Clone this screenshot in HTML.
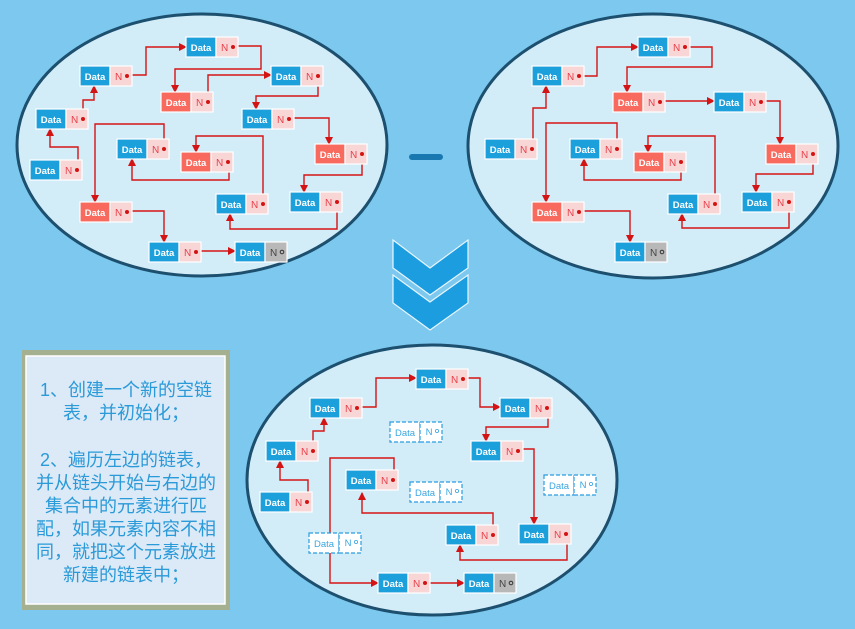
<!DOCTYPE html>
<html><head><meta charset="utf-8"><style>
html,body{margin:0;padding:0;background:#7cc8ee;}
svg{display:block;}
.d{font-family:"Liberation Sans",sans-serif;font-size:9.5px;font-weight:bold;fill:#fff;text-anchor:middle;}
.n{font-family:"Liberation Sans",sans-serif;font-size:10px;fill:#e8404a;}
.ng{font-family:"Liberation Sans",sans-serif;font-size:10px;fill:#444;}
.dd{font-family:"Liberation Sans",sans-serif;font-size:9.5px;fill:#3aa6e0;text-anchor:middle;}
.ln{fill:none;stroke:#d41414;stroke-width:1.4;}
.t{font-family:"Liberation Sans","Noto Sans CJK SC",sans-serif;font-size:18px;fill:#2a9ad8;text-anchor:middle;}
</style></head><body>
<svg width="855" height="629" viewBox="0 0 855 629" xmlns="http://www.w3.org/2000/svg">
<defs>
<marker id="a" markerWidth="8" markerHeight="8" refX="7" refY="4" orient="auto" markerUnits="userSpaceOnUse"><path d="M0,0 L8,4 L0,8 z" fill="#d41414"/></marker>
<g id="nb"><rect width="30" height="20" fill="#1ca0dc" stroke="#fff" stroke-width="1.2"/><text class="d" x="15" y="14">Data</text><rect x="30" width="22" height="20" fill="#f9d6d6" stroke="#fff" stroke-width="1.2"/><text class="n" x="35" y="14">N</text><circle cx="47" cy="10" r="2" fill="#d41414"/></g>
<g id="nr"><rect width="30" height="20" fill="#f86a5e" stroke="#fff" stroke-width="1.2"/><text class="d" x="15" y="14">Data</text><rect x="30" width="22" height="20" fill="#f9d6d6" stroke="#fff" stroke-width="1.2"/><text class="n" x="35" y="14">N</text><circle cx="47" cy="10" r="2" fill="#d41414"/></g>
<g id="ng"><rect width="30" height="20" fill="#1ca0dc" stroke="#fff" stroke-width="1.2"/><text class="d" x="15" y="14">Data</text><rect x="30" width="22" height="20" fill="#b8b8b8" stroke="#fff" stroke-width="1.2"/><text class="ng" x="35" y="14">N</text><circle cx="47" cy="10" r="1.8" fill="none" stroke="#333" stroke-width="1"/></g>
<g id="nd"><rect width="30" height="20" fill="#fff" stroke="#2a9de0" stroke-width="1.2" stroke-dasharray="4,2"/><text class="dd" x="15" y="14">Data</text><rect x="30" width="22" height="20" fill="#fff" stroke="#2a9de0" stroke-width="1.2" stroke-dasharray="4,2"/><text class="dd" x="39" y="13">N</text><circle cx="47" cy="9" r="1.6" fill="none" stroke="#3aa6e0" stroke-width="0.8"/></g>
</defs>

<!-- Left ellipse -->
<ellipse cx="202" cy="145" rx="185" ry="131" fill="#d2ecf8" stroke="#1d4f6e" stroke-width="3"/>
<polyline class="ln" marker-end="url(#a)" points="78,170 78,147 50,147 50,129"/>
<polyline class="ln" marker-end="url(#a)" points="83,118 83,100 94,100 94,86"/>
<polyline class="ln" marker-end="url(#a)" points="127,75 146,75 146,47 186,47"/>
<polyline class="ln" marker-end="url(#a)" points="233,46 261,46 261,69 175,69 175,92"/>
<polyline class="ln" marker-end="url(#a)" points="208,101 208,75 271,75"/>
<polyline class="ln" marker-end="url(#a)" points="318,75 318,96 256,96 256,109"/>
<polyline class="ln" marker-end="url(#a)" points="289,118 329,118 329,144"/>
<polyline class="ln" marker-end="url(#a)" points="362,154 362,175 304,175 304,192"/>
<polyline class="ln" marker-end="url(#a)" points="337,201 337,229 230,229 230,214"/>
<polyline class="ln" marker-end="url(#a)" points="263,203 263,136 196,136 196,152"/>
<polyline class="ln" marker-end="url(#a)" points="229,161 229,180 132,180 132,159"/>
<polyline class="ln" marker-end="url(#a)" points="164,148 164,124 95,124 95,202"/>
<polyline class="ln" marker-end="url(#a)" points="127,211 164,211 164,242"/>
<polyline class="ln" marker-end="url(#a)" points="197,251 235,251"/>
<use href="#nb" x="186" y="37"/>
<use href="#nb" x="80" y="66"/>
<use href="#nr" x="161" y="92"/>
<use href="#nb" x="271" y="66"/>
<use href="#nb" x="36" y="109"/>
<use href="#nb" x="242" y="109"/>
<use href="#nb" x="117" y="139"/>
<use href="#nr" x="181" y="152"/>
<use href="#nr" x="315" y="144"/>
<use href="#nb" x="30" y="160"/>
<use href="#nb" x="216" y="194"/>
<use href="#nb" x="290" y="192"/>
<use href="#nr" x="80" y="202"/>
<use href="#nb" x="149" y="242"/>
<use href="#ng" x="235" y="242"/>

<!-- minus -->
<rect x="409" y="154" width="34" height="6" rx="3" fill="#1a78b0"/>

<!-- Right ellipse -->
<ellipse cx="653" cy="146" rx="185" ry="132" fill="#d2ecf8" stroke="#1d4f6e" stroke-width="3"/>
<polyline class="ln" marker-end="url(#a)" points="533,148 533,108 546,108 546,86"/>
<polyline class="ln" marker-end="url(#a)" points="579,76 597,76 597,47 638,47"/>
<polyline class="ln" marker-end="url(#a)" points="684,47 712,47 712,67 627,67 627,92"/>
<polyline class="ln" marker-end="url(#a)" points="660,101 714,101"/>
<polyline class="ln" marker-end="url(#a)" points="761,101 780,101 780,144"/>
<polyline class="ln" marker-end="url(#a)" points="813,154 813,174 756,174 756,192"/>
<polyline class="ln" marker-end="url(#a)" points="789,201 789,228 682,228 682,214"/>
<polyline class="ln" marker-end="url(#a)" points="715,202 715,136 648,136 648,152"/>
<polyline class="ln" marker-end="url(#a)" points="681,161 681,180 584,180 584,159"/>
<polyline class="ln" marker-end="url(#a)" points="617,148 617,123 546,123 546,202"/>
<polyline class="ln" marker-end="url(#a)" points="579,211 630,211 630,242"/>
<use href="#nb" x="638" y="37"/>
<use href="#nb" x="532" y="66"/>
<use href="#nr" x="613" y="92"/>
<use href="#nb" x="714" y="92"/>
<use href="#nr" x="766" y="144"/>
<use href="#nb" x="485" y="139"/>
<use href="#nb" x="570" y="139"/>
<use href="#nr" x="634" y="152"/>
<use href="#nb" x="742" y="192"/>
<use href="#nb" x="668" y="194"/>
<use href="#nr" x="532" y="202"/>
<use href="#ng" x="615" y="242"/>

<!-- chevrons -->
<polygon points="393,240 430,268 468,240 468,268 430,295 393,268" fill="#1c9ddf" stroke="#e8f6ff" stroke-width="1.2"/>
<polygon points="393,275 430,302 468,275 468,303 430,330 393,303" fill="#1c9ddf" stroke="#e8f6ff" stroke-width="1.2"/>

<!-- text panel -->
<rect x="22" y="350" width="208" height="260" fill="#a4b090"/>
<rect x="26" y="356" width="199" height="248" fill="#dce9f7" stroke="#fff" stroke-width="1.5"/>
<text class="t" x="126" y="396">1、创建一个新的空链</text>
<text class="t" x="126" y="419">表，并初始化；</text>
<text class="t" x="126" y="466">2、遍历左边的链表，</text>
<text class="t" x="126" y="489">并从链头开始与右边的</text>
<text class="t" x="126" y="512">集合中的元素进行匹</text>
<text class="t" x="126" y="535">配，如果元素内容不相</text>
<text class="t" x="126" y="558">同，就把这个元素放进</text>
<text class="t" x="126" y="581">新建的链表中；</text>

<!-- Bottom ellipse -->
<ellipse cx="432" cy="480" rx="185" ry="135" fill="#d2ecf8" stroke="#1d4f6e" stroke-width="3"/>
<polyline class="ln" marker-end="url(#a)" points="308,502 308,480 280,480 280,461"/>
<polyline class="ln" marker-end="url(#a)" points="313,450 313,431 324,431 324,418"/>
<polyline class="ln" marker-end="url(#a)" points="357,407 376,407 376,378 416,378"/>
<polyline class="ln" marker-end="url(#a)" points="463,378 480,378 480,407 500,407"/>
<polyline class="ln" marker-end="url(#a)" points="548,407 548,427 486,427 486,441"/>
<polyline class="ln" marker-end="url(#a)" points="518,449 534,449 534,524"/>
<polyline class="ln" marker-end="url(#a)" points="567,533 567,560 460,560 460,545"/>
<polyline class="ln" marker-end="url(#a)" points="493,534 493,513 362,513 362,493"/>
<polyline class="ln" marker-end="url(#a)" points="394,480 394,458 330,458 330,583 378,583"/>
<polyline class="ln" marker-end="url(#a)" points="425,583 464,583"/>
<use href="#nd" x="390" y="422"/>
<use href="#nd" x="410" y="482"/>
<use href="#nd" x="544" y="475"/>
<use href="#nd" x="309" y="533"/>
<use href="#nb" x="416" y="369"/>
<use href="#nb" x="310" y="398"/>
<use href="#nb" x="500" y="398"/>
<use href="#nb" x="266" y="441"/>
<use href="#nb" x="471" y="441"/>
<use href="#nb" x="346" y="470"/>
<use href="#nb" x="260" y="492"/>
<use href="#nb" x="446" y="525"/>
<use href="#nb" x="519" y="524"/>
<use href="#nb" x="378" y="573"/>
<use href="#ng" x="464" y="573"/>
</svg>
</body></html>
